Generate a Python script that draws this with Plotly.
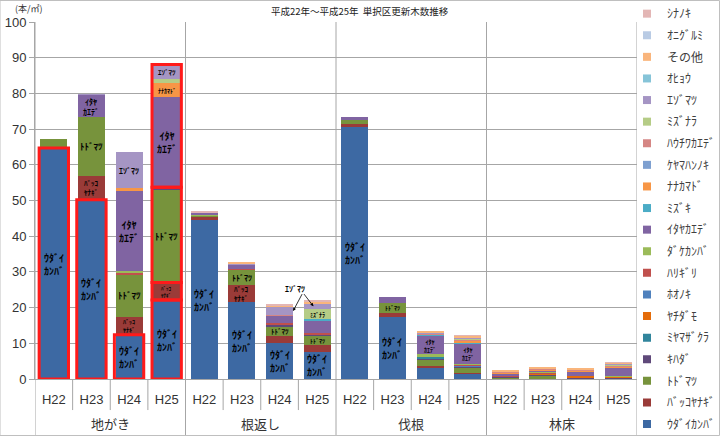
import plotly.graph_objects as go

# ---------------- data ----------------
groups = ["地がき", "根返し", "伐根", "林床"]
years = ["H22", "H23", "H24", "H25"]

# bottom -> top stacking order (values per bar: 地がき H22..H25, 根返し H22..H25, 伐根 H22..H25, 林床 H22..H25)
udaikanba   = [64.7, 50.2, 12.4, 22.1, 44.5, 21.5, 10.2, 7.7, 70.5, 17.3, 3.3, 1.6, 0.2, 0.1, 0.0, 0.0]
bakkoyanagi = [0.3, 6.8, 5.1, 4.9, 0.8, 4.9, 1.9, 1.9, 0.9, 1.3, 0.4, 0.2, 0.0, 0.0, 0.0, 0.0]
todomatsu   = [2.2, 16.3, 11.8, 26.0, 0.6, 4.2, 2.6, 2.5, 1.4, 2.6, 1.8, 1.3, 0.3, 1.0, 0.0, 0.2]
kihada      = [0.0, 0.0, 0.0, 0.7, 0.0, 0.0, 0.3, 0.3, 0.0, 0.0, 0.3, 0.3, 0.3, 0.2, 0.2, 0.1]
miyamazakura= [0.0, 0.0, 0.0, 0.0, 0.0, 0.0, 0.0, 0.0, 0.0, 0.0, 0.4, 0.2, 0.0, 0.0, 0.0, 0.0]
yachidamo   = [0.0, 0.0, 0.0, 0.0, 0.0, 0.0, 0.0, 0.0, 0.0, 0.0, 0.0, 0.0, 0.0, 0.2, 0.6, 0.4]
hoonoki     = [0.0, 0.0, 0.0, 0.0, 0.0, 0.0, 0.0, 0.0, 0.0, 0.0, 0.0, 0.2, 0.0, 0.0, 0.0, 0.0]
harigiri    = [0.0, 0.0, 0.4, 0.0, 0.0, 0.2, 0.7, 0.6, 0.0, 0.0, 0.2, 0.2, 0.3, 0.3, 0.0, 0.0]
dakekanba   = [0.0, 0.0, 0.6, 0.0, 0.3, 0.0, 0.0, 0.0, 0.0, 0.0, 0.5, 0.3, 0.0, 0.2, 0.0, 0.1]
itayakaede  = [0.0, 6.3, 22.3, 25.3, 0.5, 1.2, 2.0, 3.5, 0.5, 1.7, 5.2, 5.6, 0.5, 0.4, 1.2, 2.5]
mizuki      = [0.0, 0.0, 0.0, 0.0, 0.0, 0.2, 0.0, 0.4, 0.0, 0.0, 0.3, 0.3, 0.0, 0.0, 0.0, 0.0]
nanakamado  = [0.0, 0.0, 0.9, 3.9, 0.0, 0.0, 0.0, 0.0, 0.0, 0.0, 0.0, 0.5, 0.2, 0.3, 0.3, 0.2]
keyamahannoki=[0.0, 0.0, 0.0, 0.0, 0.0, 0.0, 0.0, 0.0, 0.0, 0.0, 0.0, 0.0, 0.0, 0.0, 0.0, 0.0]
hauchiwakaede=[0.0, 0.0, 0.0, 0.0, 0.0, 0.0, 0.2, 0.0, 0.0, 0.0, 0.3, 0.3, 0.4, 0.3, 0.4, 0.3]
mizunara    = [0.0, 0.0, 0.0, 1.0, 0.0, 0.0, 0.0, 2.6, 0.0, 0.0, 0.0, 0.3, 0.0, 0.0, 0.0, 0.3]
ezomatsu    = [0.0, 0.2, 10.0, 4.2, 0.0, 0.2, 2.3, 1.7, 0.0, 0.0, 0.4, 0.2, 0.0, 0.0, 0.0, 0.2]
ohyou       = [0.0, 0.0, 0.0, 0.0, 0.0, 0.0, 0.0, 0.0, 0.0, 0.0, 0.0, 0.0, 0.0, 0.0, 0.0, 0.0]
sonota      = [0.0, 0.0, 0.0, 0.0, 0.0, 0.2, 0.4, 0.4, 0.0, 0.0, 0.2, 0.6, 0.2, 0.3, 0.4, 0.3]
onigurumi   = [0.0, 0.0, 0.0, 0.0, 0.0, 0.0, 0.0, 0.0, 0.0, 0.0, 0.0, 0.0, 0.0, 0.0, 0.0, 0.0]
shinanoki   = [0.0, 0.0, 0.0, 0.0, 0.3, 0.0, 0.2, 0.4, 0.0, 0.0, 0.0, 0.2, 0.0, 0.0, 0.0, 0.1]

species_names = ["ｳﾀﾞｲｶﾝﾊﾞ", "ﾊﾞｯｺﾔﾅｷﾞ", "ﾄﾄﾞﾏﾂ", "ｷﾊﾀﾞ", "ﾐﾔﾏｻﾞｸﾗ", "ﾔﾁﾀﾞﾓ", "ﾎｵﾉｷ",
                 "ﾊﾘｷﾞﾘ", "ﾀﾞｹｶﾝﾊﾞ", "ｲﾀﾔｶｴﾃﾞ", "ﾐｽﾞｷ", "ﾅﾅｶﾏﾄﾞ", "ｹﾔﾏﾊﾝﾉｷ", "ﾊｳﾁﾜｶｴﾃﾞ",
                 "ﾐｽﾞﾅﾗ", "ｴｿﾞﾏﾂ", "ｵﾋｮｳ", "その他", "ｵﾆｸﾞﾙﾐ", "ｼﾅﾉｷ"]
species_values = [udaikanba, bakkoyanagi, todomatsu, kihada, miyamazakura, yachidamo, hoonoki,
                  harigiri, dakekanba, itayakaede, mizuki, nanakamado, keyamahannoki, hauchiwakaede,
                  mizunara, ezomatsu, ohyou, sonota, onigurumi, shinanoki]
species_colors = ["#3D69A3", "#9A3B38", "#77933C", "#5F497A", "#31859C", "#E46C0A", "#4F81BD",
                  "#C0504D", "#9BBB59", "#8064A2", "#4BACC6", "#F79646", "#7EA0D0", "#D58684",
                  "#B5CC86", "#A595C4", "#86C4D8", "#F9B57C", "#B9CBE4", "#E3B6B5"]

# in-bar labels: (bar index, species index, text, font size)
bar_labels = [
    (0, 0, "ｳﾀﾞｲ<br>ｶﾝﾊﾞ", 10),
    (1, 0, "ｳﾀﾞｲ<br>ｶﾝﾊﾞ", 10), (1, 1, "ﾊﾞｯｺ<br>ﾔﾅｷﾞ", 7), (1, 2, "ﾄﾄﾞﾏﾂ", 9), (1, 9, "ｲﾀﾔ<br>ｶｴﾃﾞ", 8),
    (2, 0, "ｳﾀﾞｲ<br>ｶﾝﾊﾞ", 10), (2, 1, "ﾊﾞｯｺ<br>ﾔﾅｷﾞ", 6), (2, 2, "ﾄﾄﾞﾏﾂ", 9), (2, 9, "ｲﾀﾔ<br>ｶｴﾃﾞ", 10), (2, 15, "ｴｿﾞﾏﾂ", 8),
    (3, 0, "ｳﾀﾞｲ<br>ｶﾝﾊﾞ", 10), (3, 1, "ﾊﾞｯｺ<br>ﾔﾅｷﾞ", 5), (3, 2, "ﾄﾄﾞﾏﾂ", 9), (3, 9, "ｲﾀﾔ<br>ｶｴﾃﾞ", 10),
    (3, 11, "ﾅﾅｶﾏﾄﾞ", 6), (3, 15, "ｴｿﾞﾏﾂ", 7),
    (4, 0, "ｳﾀﾞｲ<br>ｶﾝﾊﾞ", 10),
    (5, 0, "ｳﾀﾞｲ<br>ｶﾝﾊﾞ", 10), (5, 1, "ﾊﾞｯｺ<br>ﾔﾅｷﾞ", 7), (5, 2, "ﾄﾄﾞﾏﾂ", 8),
    (6, 0, "ｳﾀﾞｲ<br>ｶﾝﾊﾞ", 10), (6, 2, "ﾄﾄﾞﾏﾂ", 7),
    (7, 0, "ｳﾀﾞｲ<br>ｶﾝﾊﾞ", 10), (7, 2, "ﾄﾄﾞﾏﾂ", 6), (7, 14, "ﾐｽﾞﾅﾗ", 6),
    (8, 0, "ｳﾀﾞｲ<br>ｶﾝﾊﾞ", 10),
    (9, 0, "ｳﾀﾞｲ<br>ｶﾝﾊﾞ", 10), (9, 2, "ﾄﾄﾞﾏﾂ", 6),
    (10, 9, "ｲﾀﾔ<br>ｶｴﾃﾞ", 6),
    (11, 9, "ｲﾀﾔ<br>ｶｴﾃﾞ", 6),
]

# red highlight boxes: (bar index, first species index, last species index)
red_boxes = [(0, 0, 0), (1, 0, 0), (2, 0, 0), (3, 0, 0), (3, 1, 1), (3, 2, 3), (3, 4, 19)]

title_text = "平成22年～平成25年  単択区更新木数推移"
unit_text = "(本/㎡)"

# ---------------- figure ----------------
n_bars = len(groups) * len(years)
xs = list(range(n_bars))
ticktext = years * len(groups)

# cumulative bottoms
bottoms = []
acc = [0.0] * n_bars
for vals in species_values:
    bottoms.append(acc[:])
    acc = [a + v for a, v in zip(acc, vals)]

fig = go.Figure()
for name, vals, col in zip(species_names, species_values, species_colors):
    fig.add_trace(go.Bar(x=xs, y=vals, name=name, marker=dict(color=col, line=dict(width=0)),
                         width=0.72, showlegend=False, hoverinfo="x+y+name"))

# legend entries (top -> bottom order as in the original)
for name, col in reversed(list(zip(species_names, species_colors))):
    fig.add_trace(go.Scatter(x=[None], y=[None], mode="markers", name=name, legendgroup=name,
                             marker=dict(symbol="square", size=8, color=col, line=dict(width=0))))

fig.update_layout(
    barmode="stack",
    width=720, height=436,
    margin=dict(l=35, r=83, t=22, b=57, autoexpand=False),
    paper_bgcolor="white", plot_bgcolor="white",
    font=dict(family="Noto Sans CJK JP, Noto Sans, sans-serif", color="#333333", size=11),
    legend=dict(x=(627 - 35) / 602, xanchor="left", y=1.064, yanchor="top", traceorder="grouped",
                tracegroupgap=2.6, font=dict(size=12, color="#404040"), maxheight=436,
                bgcolor="rgba(0,0,0,0)", borderwidth=0, itemwidth=30),
    xaxis=dict(range=[-0.5, n_bars - 0.5], tickmode="array", tickvals=xs, ticktext=ticktext,
               showgrid=False, zeroline=False, showline=True, linecolor="#A6A6A6", ticks="",
               tickfont=dict(size=13, color="#333333", family="Liberation Sans, Noto Sans"),
               ticklabelstandoff=8),
    yaxis=dict(range=[0, 100], dtick=10, showgrid=True, gridcolor="#A6A6A6", gridwidth=1,
               zeroline=False, showline=True, linecolor="#A6A6A6", ticks="outside", ticklen=5,
               tickcolor="#A6A6A6", tickfont=dict(size=13, color="#333333",
               family="Liberation Sans, Noto Sans")),
)

shapes = []
# vertical separators within groups (short) and between groups (full height)
for g in range(len(groups)):
    for k in range(1, len(years)):
        xpos = g * len(years) + k - 0.5
        shapes.append(dict(type="line", xref="x", yref="paper", x0=xpos, x1=xpos, y0=0, y1=-0.087,
                           line=dict(color="#A6A6A6", width=1)))
for g in range(len(groups) + 1):
    xpos = g * len(years) - 0.5
    shapes.append(dict(type="line", xref="x", yref="paper", x0=xpos, x1=xpos, y0=1, y1=-0.165,
                       line=dict(color="#A6A6A6", width=1)))
# red boxes
for b, s0, s1 in red_boxes:
    y0 = bottoms[s0][b]
    y1 = bottoms[s1][b] + species_values[s1][b]
    shapes.append(dict(type="rect", xref="x", yref="y", x0=b - 0.39, x1=b + 0.39, y0=y0, y1=y1,
                       line=dict(color="#FF1A1A", width=3), fillcolor="rgba(0,0,0,0)", layer="above"))
# outer frame
shapes.append(dict(type="rect", xref="paper", yref="paper", x0=-35 / 602, x1=684.5 / 602,
                   y0=-56.5 / 357, y1=1 + 21.5 / 357, line=dict(color="#BFBFBF", width=1)))
fig.update_layout(shapes=shapes)

annotations = []
for b, s, txt, size in bar_labels:
    ymid = bottoms[s][b] + species_values[s][b] / 2
    annotations.append(dict(x=b, y=ymid, xref="x", yref="y", text="<b>" + txt + "</b>", showarrow=False,
                            font=dict(size=size, color="black", family="Noto Sans CJK JP"),
                            align="center", xanchor="center", yanchor="middle"))
# group labels
for g, name in enumerate(groups):
    annotations.append(dict(x=g * len(years) + 1.5, y=-0.125, xref="x", yref="paper", text=name,
                            showarrow=False, font=dict(size=13, color="#333333"),
                            xanchor="center", yanchor="middle"))
# callout for ｴｿﾞﾏﾂ in 根返し
annotations.append(dict(x=6.42, y=25.4, xref="x", yref="y", text="<b>ｴｿﾞﾏﾂ</b>", showarrow=False,
                        font=dict(size=8, color="black"), xanchor="center", yanchor="middle"))
for b in (6, 7):
    s = 15
    ytarget = bottoms[s][b] + species_values[s][b] / 2
    xtarget = b + 0.36 if b == 6 else b - 0.1
    annotations.append(dict(x=xtarget, y=ytarget, xref="x", yref="y", ax=6.62, ay=24.2,
                            axref="x", ayref="y", text="", showarrow=True, arrowhead=2,
                            arrowsize=0.8, arrowwidth=0.8, arrowcolor="black"))
# title and unit
annotations.append(dict(x=(360 - 35) / 602, y=1 + 11 / 357, xref="paper", yref="paper", text=title_text,
                        showarrow=False, font=dict(size=9.5, color="#222222"),
                        xanchor="center", yanchor="middle"))
annotations.append(dict(x=(29 - 35) / 602, y=1 + 13 / 357, xref="paper", yref="paper", text=unit_text,
                        showarrow=False, font=dict(size=9, color="#333333"),
                        xanchor="center", yanchor="middle"))
fig.update_layout(annotations=annotations)

fig.write_html("out.html")
